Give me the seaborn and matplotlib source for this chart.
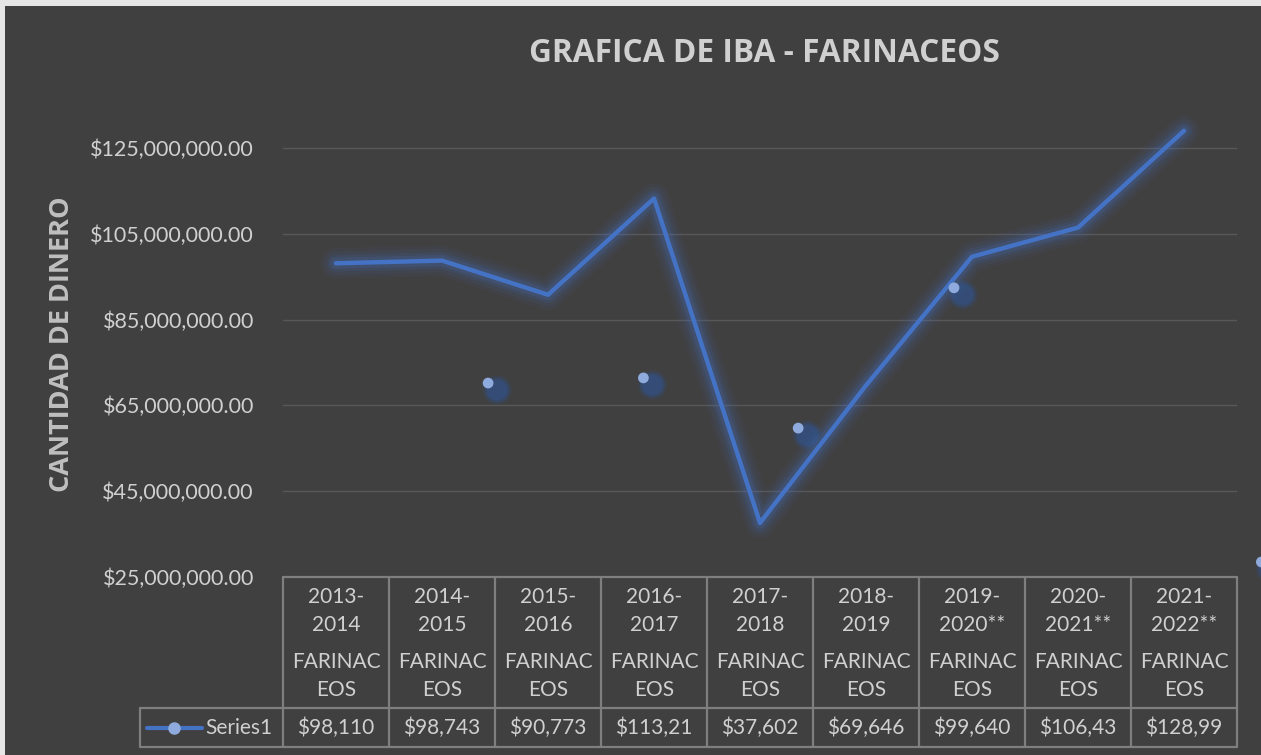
import matplotlib
matplotlib.use("Agg")
import matplotlib.pyplot as plt
import matplotlib.patheffects as pe
from matplotlib.patches import Rectangle
from matplotlib.transforms import offset_copy
from matplotlib.ticker import FuncFormatter
import pandas as pd
import seaborn as sns

# datos de la grafica
periodo_inicio = ["2013-", "2014-", "2015-", "2016-", "2017-", "2018-", "2019-", "2020-", "2021-"]
periodo_fin = ["2014", "2015", "2016", "2017", "2018", "2019", "2020**", "2021**", "2022**"]
categoria = ["FARINACEOS"] * 9
valores = [98110000, 98743000, 90773000, 113210000, 37602000,
           69646000, 99640000, 106430000, 128990000]
serie = "Series1"

# puntos sueltos que aparecen en la grafica original
puntos_x = [1.435, 2.90, 4.36, 5.83, 8.73]
puntos_y = [70200000, 71400000, 59700000, 92400000, 28500000]

fondo = "#404040"
texto = "#d0d0d0"
azul = "#4472C4"
azul_claro = "#8FAADC"
borde = "#7f7f7f"

sns.set_theme(style="dark")
plt.rcParams["font.family"] = ["Lato", "DejaVu Sans"]

fig = plt.figure(figsize=(12.61, 7.55), dpi=100, facecolor="#e6e6e6")
fig.patches.append(Rectangle((5 / 1261, 0), 1, 1 - 6 / 755, transform=fig.transFigure,
                             facecolor=fondo, edgecolor="none", zorder=-10))
ax = fig.add_axes([283 / 1261, 1 - 577 / 755, (1237 - 283) / 1261, (577 - 105) / 755])
ax.set_facecolor(fondo)

df = pd.DataFrame({"x": range(len(valores)), "valor": valores})

# brillo alrededor de la linea
glow = [pe.Stroke(linewidth=w, foreground=azul, alpha=a)
        for w, a in [(22, 0.06), (17, 0.08), (12, 0.12), (8, 0.16)]]
sns.lineplot(data=df, x="x", y="valor", ax=ax, color=azul, linewidth=3.2, zorder=5,
             path_effects=glow + [pe.Normal()])

# puntos sueltos con su sombra
sombra = offset_copy(ax.transData, fig=fig, x=9, y=-7, units="dots")
for s, a in [(440, 0.18), (320, 0.28), (220, 0.38)]:
    ax.scatter(puntos_x, puntos_y, s=s, color="#2f5597", alpha=a, edgecolor="none",
               transform=sombra, clip_on=False, zorder=3)
sns.scatterplot(x=puntos_x, y=puntos_y, ax=ax, s=60, color=azul_claro, edgecolor="none",
                clip_on=False, zorder=6)

ax.set_xlim(-0.5, len(valores) - 0.5)
ax.set_ylim(25000000, 135000000)
ax.set_yticks(range(25000000, 125000001, 20000000))
ax.yaxis.set_major_formatter(FuncFormatter(lambda v, p: f"${v:,.2f}"))
ax.tick_params(axis="y", colors=texto, labelsize=15.5, length=0, pad=21)
ax.set_xticks([])
ax.set_xlabel("")
ax.set_ylabel("")
ax.grid(axis="y", color="#585858", linewidth=1)
ax.grid(axis="x", visible=False)
for sp in ax.spines.values():
    sp.set_visible(False)

fig.text(62 / 1261, 1 - 344 / 755, "CANTIDAD DE DINERO", rotation=90, ha="center", va="center",
         color="#bfbfbf", fontsize=19.5, fontweight="bold", family=["Open Sans", "DejaVu Sans"])
fig.text(764 / 1261, 1 - 53 / 755, "GRAFICA DE IBA - FARINACEOS", ha="center", va="center",
         color=texto, fontsize=22.8, fontweight="bold", family=["Open Sans", "DejaVu Sans"])

# tabla de datos debajo del eje
tr = ax.get_xaxis_transform()
n = len(valores)
y_top, y_mid, y_bot = 0.0, -0.2775, -0.3602
x_leg = -1.85
kw = dict(color=borde, linewidth=1.6, transform=tr, clip_on=False)
ax.plot([-0.5, n - 0.5], [y_top, y_top], **kw)
ax.plot([x_leg, n - 0.5], [y_mid, y_mid], **kw)
ax.plot([x_leg, n - 0.5], [y_bot, y_bot], **kw)
for i in range(n + 1):
    ax.plot([i - 0.5, i - 0.5], [y_top, y_bot], **kw)
ax.plot([x_leg, x_leg], [y_mid, y_bot], **kw)

ft = dict(transform=tr, ha="center", va="center", color=texto, fontsize=15, clip_on=False)
for i in range(n):
    ax.text(i, -0.042, periodo_inicio[i], **ft)
    ax.text(i, -0.101, periodo_fin[i], **ft)
    ax.text(i, -0.180, categoria[i][:7], **ft)
    ax.text(i, -0.239, categoria[i][7:], **ft)
    ax.text(i, -0.320, f"${valores[i]:,.2f}"[:7], **ft)

ax.plot([-1.785, -1.265], [-0.320, -0.320], color=azul, linewidth=3, transform=tr, clip_on=False)
ax.plot([-1.53], [-0.320], marker="o", markersize=8, color=azul_claro, transform=tr, clip_on=False)
ax.text(-1.23, -0.320, serie, transform=tr, ha="left", va="center", color=texto,
        fontsize=15, clip_on=False)

fig.savefig("out.png", dpi=100, facecolor=fig.get_facecolor())
